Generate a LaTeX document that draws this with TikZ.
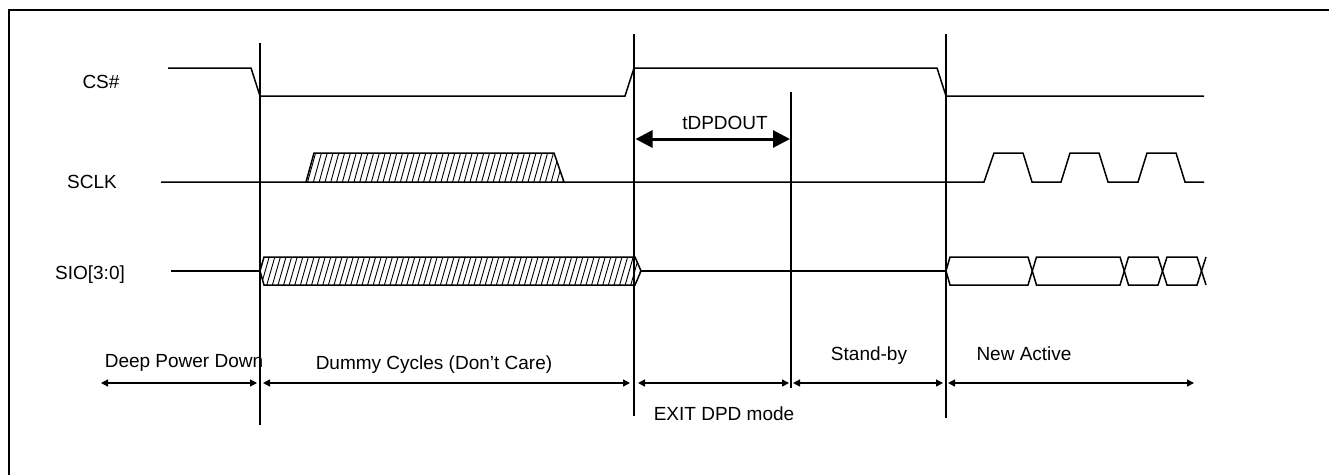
\documentclass[tikz,border=0pt]{standalone}
\usepackage{fontspec}
\setmainfont{Liberation Sans}
\usetikzlibrary{arrows.meta}
\begin{document}
\begin{tikzpicture}[x=1pt,y=-1pt,
  sig/.style={line width=1.5pt, line join=miter},
  marker/.style={line width=1.4pt},
  hatchline/.style={line width=0.9pt},
  lbl/.style={font=\fontsize{19}{22}\selectfont, inner sep=0pt, anchor=base},
  span/.style={line width=1.4pt, {Triangle[length=7pt,width=7pt]}-{Triangle[length=7pt,width=7pt]}},
  bigspan/.style={line width=3pt, {Triangle[length=17pt,width=17pt]}-{Triangle[length=17pt,width=17pt]}},
  ]
\useasboundingbox (0,0) rectangle (1329,475);
\fill[white] (0,0) rectangle (1329,475);
% frame
\draw[line width=2pt] (9,475) -- (9,10) -- (1329,10);

% time markers
\coordinate (m1t) at (260,43);  \coordinate (m1b) at (260,425);
\coordinate (m2t) at (634,34);  \coordinate (m2b) at (634,416);
\coordinate (m3t) at (791,92);  \coordinate (m3b) at (791,388);
\coordinate (m4t) at (946,34);  \coordinate (m4b) at (946,418);
\draw[marker] (m1t) -- (m1b);
\draw[marker] (m2t) -- (m2b);
\draw[marker] (m3t) -- (m3b);
\draw[marker] (m4t) -- (m4b);

% signal names
\node[lbl] (cs)   at (101,88)  {CS\#};
\node[lbl] (sclk) at (92,188)  {SCLK};
\node[lbl] (sio)  at (90,279)  {SIO[3:0]};

% CS#
\draw[sig] (168,68) -- (251,68) -- (260,96) -- (625,96) -- (634,68) -- (937,68) -- (946,96) -- (1204,96);

% SCLK
\draw[sig] (161,182) -- (984,182) -- (994,153) -- (1023,153) -- (1032,182) -- (1061,182) -- (1070,153) -- (1099,153) -- (1108,182) -- (1138,182) -- (1147,153) -- (1176,153) -- (1185,182) -- (1204,182);
\begin{scope}
  \clip (306,182) -- (314,153) -- (554,153) -- (564,182) -- cycle;
  \foreach \x in {296,301.8,...,570} \draw[hatchline] (\x,182) -- (\x+8,153);
\end{scope}
\draw[sig] (306,182) -- (314,153) -- (554,153) -- (564,182);

% SIO
\draw[sig] (171,271) -- (260,271);
\begin{scope}
  \clip (260,271) -- (264,257) -- (635,257) -- (641,271) -- (635,285) -- (264,285) -- cycle;
  \foreach \x in {250,255.6,...,645} \draw[hatchline] (\x,285) -- (\x+8,257);
\end{scope}
\draw[sig] (260,271) -- (264,257) -- (635,257) -- (641,271) -- (635,285) -- (264,285) -- cycle;
\draw[sig] (641,271) -- (946,271);
\draw[sig] (946,271) -- (950,257) -- (1028,257) -- (1036.5,285) -- (1120,285) -- (1128.5,257) -- (1158,257) -- (1167,285) -- (1197,285) -- (1206,257);
\draw[sig] (946,271) -- (950,285) -- (1028,285) -- (1036.5,257) -- (1120,257) -- (1128.5,285) -- (1158,285) -- (1167,257) -- (1197,257) -- (1206,285);

% tDPDOUT
\node[lbl] (tdp) at (725,129) {tDPDOUT};
\coordinate (tdpL) at (635.5,139);
\coordinate (tdpR) at (790,139);
\draw[bigspan] (tdpL) -- (tdpR);

% phase spans
\coordinate (a0) at (101,383);  \coordinate (a1) at (257,383);
\coordinate (b0) at (263,383);  \coordinate (b1) at (630,383);
\coordinate (c0) at (638,383);  \coordinate (c1) at (789,383);
\coordinate (d0) at (793,383);  \coordinate (d1) at (943,383);
\coordinate (e0) at (948,383);  \coordinate (e1) at (1194,383);
\draw[span] (a0) -- (a1);
\draw[span] (b0) -- (b1);
\draw[span] (c0) -- (c1);
\draw[span] (d0) -- (d1);
\draw[span] (e0) -- (e1);

\node[lbl] (dpd)   at (184,367) {Deep Power Down};
\node[lbl] (dummy) at (434,369) {Dummy Cycles (Don’t Care)};
\node[lbl] (stby)  at (869,360) {Stand-by};
\node[lbl] (newa)  at (1024,360) {New Active};
\node[lbl] (exit)  at (724,420) {EXIT DPD mode};
\end{tikzpicture}
\end{document}
